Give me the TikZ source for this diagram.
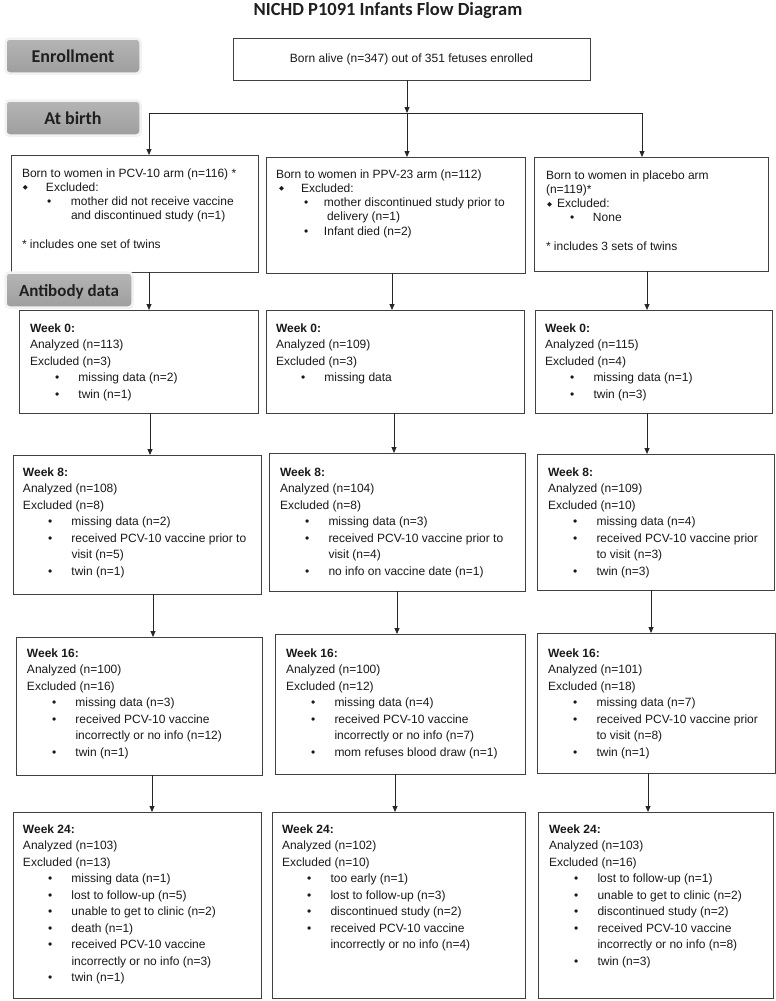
\documentclass[tikz,border=0pt]{standalone}
\usepackage{fontspec}
\setmainfont{Liberation Sans}
\newfontfamily\lblfont{Carlito}
\newfontfamily\symfont{DejaVu Sans}
\usetikzlibrary{arrows.meta,shadows}

\newcommand\bodyfont{\fontsize{12}{16.5}\selectfont}
\newcommand\topfont{\fontsize{12}{14.3}\selectfont}
\newcommand\bitem[1]{\makebox[0pt][l]{\hspace*{25pt}\textbullet}\hspace*{48.5pt}#1}
\newcommand\cont[1]{\hspace*{48.5pt}#1}
\newcommand\abul[3]{\makebox[0pt][l]{\hspace*{#1}\textbullet}\hspace*{#2}#3}
\newcommand\adia[3]{\makebox[0pt][l]{\hspace*{#1}\raisebox{1.6pt}{\symfont\fontsize{6.5}{6.5}\selectfont ◆}}\hspace*{#2}#3}
\newcommand\wk[1]{\textbf{#1}}

\tikzset{
  box/.style={draw=black!75, line width=0.9pt, inner sep=0pt, outer sep=0pt},
  txt/.style={anchor=north west, inner sep=0pt, outer sep=0pt, align=left, font=\bodyfont, text=black!90},
  txta/.style={txt, font=\topfont},
  conn/.style={draw=black!85, line width=0.8pt},
  arr/.style={conn, -{Triangle[length=6pt,width=5pt]}},
  lbl/.style={rounded corners=4pt, draw=black!5, line width=2.5pt,
    top color=black!29, bottom color=black!38,
    drop shadow={shadow xshift=0.8pt, shadow yshift=-1pt, opacity=0.35, fill=black!45},
    minimum height=35pt, inner sep=0pt, text height=12pt, text depth=0pt,
    font=\lblfont\bfseries\fontsize{18}{20}\selectfont, text=black!88}
}
\newcommand\bx[5]{\node[box, minimum width={#4-#2}, minimum height={#5-#3}, anchor=north west] (#1) at (#2,#3) {};}
\newcommand\tx[4]{\node[txt] (#1) at (#2,{#3-11.55}) {\strut #4};}
\newcommand\txa[4]{\node[txta] (#1) at (#2,{#3-10.01}) {\strut #4};}

\begin{document}
\begin{tikzpicture}[x=1pt,y=-1pt]
\useasboundingbox (0,0) rectangle (776,1001);

% title
\node[anchor=base, inner sep=0pt, font=\lblfont\bfseries\fontsize{18.5}{20}\selectfont, text=black!88] (title) at (388,16) {NICHD P1091 Infants Flow Diagram};

% top box
\node[box, minimum width=357, minimum height=42, font=\bodyfont, text=black!90] (top) at (411.5,59) {Born alive (n=347) out of 351 fetuses enrolled};

% at-birth boxes
\bx{A1}{11}{155}{258}{272}
\bx{A2}{266}{157}{525}{273}
\bx{A3}{534}{157}{768}{271}

\txa{A1t}{22}{177}{Born to women in PCV-10 arm (n=116) *\\
\adia{1pt}{24pt}{Excluded:}\\
\abul{25pt}{49pt}{mother did not receive vaccine}\\
\hspace*{49pt}and discontinued study (n=1)\\[14.3pt]
* includes one set of twins}

\txa{A2t}{276}{178}{Born to women in PPV-23 arm (n=112)\\
\adia{3pt}{25pt}{Excluded:}\\
\abul{28pt}{48pt}{mother discontinued study prior to}\\
\hspace*{51pt}delivery (n=1)\\
\abul{28pt}{48pt}{Infant died (n=2)}}

\txa{A3t}{546}{179}{Born to women in placebo arm\\
(n=119)*\\
\adia{1pt}{11pt}{Excluded:}\\
\abul{24pt}{47pt}{None}\\[14.3pt]
* includes 3 sets of twins}

% week 0
\bx{W0a}{19}{310}{258}{413}
\bx{W0b}{266}{310}{524}{413}
\bx{W0c}{535}{310}{772}{413}
\tx{W0at}{30}{332}{\wk{Week 0:}\\ Analyzed (n=113)\\ Excluded (n=3)\\ \bitem{missing data (n=2)}\\ \bitem{twin (n=1)}}
\tx{W0bt}{276}{332}{\wk{Week 0:}\\ Analyzed (n=109)\\ Excluded (n=3)\\ \bitem{missing data}}
\tx{W0ct}{545}{332}{\wk{Week 0:}\\ Analyzed (n=115)\\ Excluded (n=4)\\ \bitem{missing data (n=1)}\\ \bitem{twin (n=3)}}

% week 8
\bx{W8a}{13}{455}{261}{594}
\bx{W8b}{269}{453}{525}{591}
\bx{W8c}{537}{454}{774}{590}
\tx{W8at}{23}{476}{\wk{Week 8:}\\ Analyzed (n=108)\\ Excluded (n=8)\\ \bitem{missing data (n=2)}\\ \bitem{received PCV-10 vaccine prior to}\\ \cont{visit (n=5)}\\ \bitem{twin (n=1)}}
\tx{W8bt}{280}{476}{\wk{Week 8:}\\ Analyzed (n=104)\\ Excluded (n=8)\\ \bitem{missing data (n=3)}\\ \bitem{received PCV-10 vaccine prior to}\\ \cont{visit (n=4)}\\ \bitem{no info on vaccine date (n=1)}}
\tx{W8ct}{548}{476}{\wk{Week 8:}\\ Analyzed (n=109)\\ Excluded (n=10)\\ \bitem{missing data (n=4)}\\ \bitem{received PCV-10 vaccine prior}\\ \cont{to visit (n=3)}\\ \bitem{twin (n=3)}}

% week 16
\bx{W16a}{16}{637}{262}{775}
\bx{W16b}{275}{634}{525}{774}
\bx{W16c}{537}{633}{775}{773}
\tx{W16at}{27}{657}{\wk{Week 16:}\\ Analyzed (n=100)\\ Excluded (n=16)\\ \bitem{missing data (n=3)}\\ \bitem{received PCV-10 vaccine}\\ \cont{incorrectly or no info (n=12)}\\ \bitem{twin (n=1)}}
\tx{W16bt}{286}{657}{\wk{Week 16:}\\ Analyzed (n=100)\\ Excluded (n=12)\\ \bitem{missing data (n=4)}\\ \bitem{received PCV-10 vaccine}\\ \cont{incorrectly or no info (n=7)}\\ \bitem{mom refuses blood draw (n=1)}}
\tx{W16ct}{548}{657}{\wk{Week 16:}\\ Analyzed (n=101)\\ Excluded (n=18)\\ \bitem{missing data (n=7)}\\ \bitem{received PCV-10 vaccine prior}\\ \cont{to visit (n=8)}\\ \bitem{twin (n=1)}}

% week 24
\bx{W24a}{13}{812}{261}{998}
\bx{W24b}{272}{812}{525}{998}
\bx{W24c}{538}{812}{773}{998}
\tx{W24at}{23}{833}{\wk{Week 24:}\\ Analyzed (n=103)\\ Excluded (n=13)\\ \bitem{missing data (n=1)}\\ \bitem{lost to follow-up (n=5)}\\ \bitem{unable to get to clinic (n=2)}\\ \bitem{death (n=1)}\\ \bitem{received PCV-10 vaccine}\\ \cont{incorrectly or no info (n=3)}\\ \bitem{twin (n=1)}}
\tx{W24bt}{282}{833}{\wk{Week 24:}\\ Analyzed (n=102)\\ Excluded (n=10)\\ \bitem{too early (n=1)}\\ \bitem{lost to follow-up (n=3)}\\ \bitem{discontinued study (n=2)}\\ \bitem{received PCV-10 vaccine}\\ \cont{incorrectly or no info (n=4)}}
\tx{W24ct}{549}{833}{\wk{Week 24:}\\ Analyzed (n=103)\\ Excluded (n=16)\\ \bitem{lost to follow-up (n=1)}\\ \bitem{unable to get to clinic (n=2)}\\ \bitem{discontinued study (n=2)}\\ \bitem{received PCV-10 vaccine}\\ \cont{incorrectly or no info (n=8)}\\ \bitem{twin (n=3)}}

% connectors
\coordinate (jL) at (149,113);
\coordinate (jM) at (407,113);
\coordinate (jR) at (642,113);
\draw[conn] (jL) -- (jR);
\draw[arr] (top.south -| jM) -- (jM);
\draw[arr] (jL) -- (A1.north -| jL);
\draw[arr] (jM) -- (A2.north -| jM);
\draw[arr] (jR) -- (A3.north -| jR);

\coordinate (k1L) at (149,0); \coordinate (k1M) at (392,0); \coordinate (k1R) at (647,0);
\coordinate (k2L) at (150,0); \coordinate (k2M) at (394,0); \coordinate (k2R) at (647,0);
\coordinate (k3L) at (153,0); \coordinate (k3M) at (397,0); \coordinate (k3R) at (651,0);
\coordinate (k4L) at (152,0); \coordinate (k4M) at (395,0); \coordinate (k4R) at (648,0);

\draw[arr] (A1.south -| k1L) -- (W0a.north -| k1L);
\draw[arr] (A2.south -| k1M) -- (W0b.north -| k1M);
\draw[arr] (A3.south -| k1R) -- (W0c.north -| k1R);
\draw[arr] (W0a.south -| k2L) -- (W8a.north -| k2L);
\draw[arr] (W0b.south -| k2M) -- (W8b.north -| k2M);
\draw[arr] (W0c.south -| k2R) -- (W8c.north -| k2R);
\draw[arr] (W8a.south -| k3L) -- (W16a.north -| k3L);
\draw[arr] (W8b.south -| k3M) -- (W16b.north -| k3M);
\draw[arr] (W8c.south -| k3R) -- (W16c.north -| k3R);
\draw[arr] (W16a.south -| k4L) -- (W24a.north -| k4L);
\draw[arr] (W16b.south -| k4M) -- (W24b.north -| k4M);
\draw[arr] (W16c.south -| k4R) -- (W24c.north -| k4R);

% side labels
\node[lbl, minimum width=135pt] (enr) at (73,56) {Enrollment};
\node[lbl, minimum width=135pt] (birth) at (73,118) {At birth};
\node[lbl, minimum width=127pt, font=\lblfont\bfseries\fontsize{17}{20}\selectfont] (ab) at (69,290) {Antibody data};
\end{tikzpicture}
\end{document}
